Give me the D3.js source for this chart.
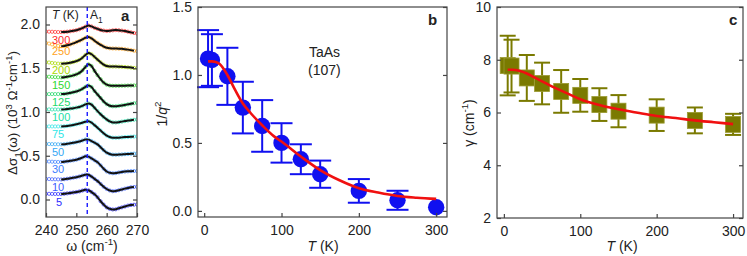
<!DOCTYPE html>
<html>
<head>
<meta charset="utf-8">
<script src="https://cdn.jsdelivr.net/npm/d3@7"></script>
<style>
  body { margin: 0; background: #fff; }
  svg { display: block; font-family: "Liberation Sans", Arial, sans-serif; }
  .tick text { font-size: 14px; fill: #222; }
</style>
</head>
<body>
<svg id="chart" width="747" height="256"></svg>
<script>
// ---- panel a : spectra (offset), omega grid 240..270 cm-1
var omega = d3.range(240, 271, 1);
var specTemps = ["5", "10", "30", "50", "75", "100", "125", "150", "200", "250", "300"];
var specColors = ["#2b2bff", "#3d5cff", "#3d7dff", "#35a8f5", "#2ee6e6", "#22e0a8", "#22d86a", "#2ed82e", "#a8d800", "#ffa21a", "#ff2a2a"];
var s5   = [0.065,0.065,0.064,0.063,0.063,0.062,0.065,0.070,0.075,0.080,0.085,0.092,0.102,0.111,0.105,0.085,0.060,0.025,-0.020,-0.058,-0.090,-0.107,-0.114,-0.112,-0.100,-0.090,-0.080,-0.070,-0.063,-0.060,-0.057];
var s10  = [0.235,0.234,0.232,0.231,0.230,0.229,0.232,0.237,0.243,0.249,0.255,0.263,0.274,0.284,0.282,0.262,0.236,0.210,0.178,0.145,0.120,0.103,0.095,0.098,0.106,0.115,0.124,0.132,0.140,0.143,0.145];
var s30  = [0.435,0.434,0.432,0.430,0.429,0.428,0.431,0.436,0.442,0.448,0.455,0.465,0.479,0.493,0.490,0.470,0.448,0.425,0.390,0.352,0.320,0.305,0.300,0.302,0.309,0.315,0.319,0.322,0.324,0.325,0.325];
var s50  = [0.635,0.634,0.633,0.632,0.631,0.630,0.632,0.637,0.642,0.648,0.655,0.663,0.674,0.686,0.684,0.668,0.650,0.630,0.597,0.564,0.535,0.520,0.512,0.511,0.513,0.515,0.518,0.520,0.522,0.524,0.526];
var s75  = [0.835,0.835,0.835,0.835,0.835,0.835,0.837,0.841,0.846,0.852,0.860,0.868,0.878,0.889,0.893,0.878,0.850,0.820,0.788,0.757,0.730,0.714,0.706,0.705,0.707,0.710,0.713,0.715,0.717,0.719,0.720];
var s100 = [1.030,1.030,1.029,1.029,1.028,1.028,1.030,1.034,1.039,1.044,1.050,1.058,1.070,1.087,1.098,1.085,1.048,1.010,0.975,0.942,0.915,0.893,0.881,0.880,0.884,0.890,0.896,0.902,0.907,0.911,0.914];
var s125 = [1.205,1.205,1.205,1.205,1.205,1.205,1.207,1.211,1.218,1.226,1.235,1.248,1.265,1.288,1.303,1.285,1.240,1.200,1.160,1.120,1.090,1.072,1.065,1.066,1.070,1.075,1.081,1.088,1.094,1.100,1.105];
var s150 = [1.405,1.403,1.401,1.399,1.397,1.395,1.398,1.403,1.410,1.419,1.430,1.447,1.475,1.515,1.545,1.525,1.470,1.420,1.375,1.336,1.312,1.302,1.299,1.299,1.299,1.300,1.301,1.302,1.303,1.304,1.305];
var s200 = [1.570,1.566,1.561,1.557,1.553,1.551,1.553,1.557,1.563,1.571,1.581,1.596,1.620,1.652,1.674,1.660,1.630,1.598,1.568,1.542,1.526,1.520,1.519,1.519,1.518,1.516,1.514,1.511,1.508,1.504,1.501];
var s250 = [1.790,1.782,1.772,1.763,1.756,1.752,1.755,1.762,1.772,1.784,1.798,1.812,1.830,1.848,1.856,1.842,1.815,1.790,1.768,1.748,1.735,1.728,1.726,1.725,1.724,1.722,1.718,1.713,1.707,1.700,1.695];
var s300 = [1.920,1.918,1.917,1.915,1.914,1.913,1.915,1.918,1.923,1.928,1.935,1.945,1.958,1.975,1.988,1.978,1.962,1.950,1.938,1.930,1.926,1.928,1.933,1.936,1.934,1.930,1.925,1.918,1.910,1.903,1.897];
var spectra = [s5, s10, s30, s50, s75, s100, s125, s150, s200, s250, s300];
var phononPos = 253.6;

// ---- panels b and c : fit parameters vs temperature
var temps = [5, 10, 30, 50, 75, 100, 125, 150, 200, 250, 300];
var invQ2 = [1.12, 1.11, 0.99, 0.76, 0.625, 0.50, 0.38, 0.27, 0.147, 0.078, 0.027];
var invQ2Err = [0.21, 0.19, 0.21, 0.19, 0.19, 0.145, 0.11, 0.10, 0.087, 0.07, 0];
var gamma = [7.78, 7.76, 7.31, 7.10, 6.80, 6.65, 6.30, 6.05, 5.90, 5.70, 5.55];
var gammaErr = [1.13, 1.0, 0.87, 0.79, 0.81, 0.62, 0.62, 0.61, 0.60, 0.49, 0.40];
var fitT = [5, 10, 15, 20, 30, 40, 50, 60, 75, 90, 100, 125, 150, 175, 200, 225, 250, 275, 300];
var fitInvQ2 = [1.10, 1.10, 1.095, 1.08, 1.00, 0.89, 0.79, 0.72, 0.63, 0.55, 0.51, 0.40, 0.30, 0.225, 0.167, 0.135, 0.11, 0.097, 0.088];
var fitGamma = [7.62, 7.62, 7.61, 7.58, 7.48, 7.33, 7.18, 7.03, 6.83, 6.63, 6.50, 6.28, 6.12, 5.99, 5.87, 5.79, 5.70, 5.63, 5.56];

var tTicks = [0, 100, 200, 300];

var svg = d3.select("#chart");
var frameColor = "#444";

// rich text helper: parts = [[string, "sub"|"sup"|"it"|""]]
function richText(sel, parts, size) {
    var shift = 0;
    parts.forEach(function(p) {
        var t = sel.append("tspan").text(p[0]);
        var want = p[1] === "sub" ? 0.3 * size : (p[1] === "sup" ? -0.4 * size : 0);
        t.attr("dy", want - shift);
        shift = want;
        if (p[1] === "sub" || p[1] === "sup") t.attr("font-size", (size * 0.7) + "px");
        if (p[1] === "it") t.attr("font-style", "italic");
    });
}

function frame(x0, x1, y0, y1) {
    svg.append("rect")
        .attr("x", x0).attr("y", y0)
        .attr("width", x1 - x0).attr("height", y1 - y0)
        .attr("fill", "none").attr("stroke", frameColor).attr("stroke-width", 1.2);
}

function axes(x, y, xTicks, yTicks, yFmt) {
    var r = x.range(), ry = y.range();
    var gx = svg.append("g").attr("transform", "translate(0," + ry[0] + ")")
        .call(d3.axisBottom(x).tickValues(xTicks).tickSizeInner(-4).tickSizeOuter(0).tickPadding(8));
    var gy = svg.append("g").attr("transform", "translate(" + r[0] + ",0)")
        .call(d3.axisLeft(y).tickValues(yTicks).tickFormat(yFmt).tickSizeInner(-4).tickSizeOuter(0).tickPadding(6));
    var gr = svg.append("g").attr("transform", "translate(" + r[1] + ",0)")
        .call(d3.axisRight(y).tickValues(yTicks).tickFormat("").tickSizeInner(-4).tickSizeOuter(0));
    [gx, gy, gr].forEach(function(g) {
        g.select(".domain").remove();
        g.selectAll(".tick line").attr("stroke", frameColor).attr("stroke-width", 1.2);
    });
}

// ================= panel a
var xA = d3.scaleLinear().domain([240, 270]).range([46, 137]);
var yA = d3.scaleLinear().domain([-0.2, 2.2]).range([217, 7]);

svg.append("defs").append("clipPath").attr("id", "clipA")
    .append("rect").attr("x", 46).attr("y", 7).attr("width", 91).attr("height", 210);

var gA = svg.append("g").attr("clip-path", "url(#clipA)");
var fitLine = d3.line().x(function(d) { return xA(d[0]); }).y(function(d) { return yA(d[1]); }).curve(d3.curveCatmullRom);

spectra.forEach(function(s, i) {
    var pts = omega.map(function(w, k) { return [w, s[k]]; });
    gA.append("g").selectAll("circle")
        .data(pts).enter().append("circle")
        .attr("cx", function(d) { return xA(d[0]); })
        .attr("cy", function(d) { return yA(d[1]); })
        .attr("r", 1.6)
        .attr("fill", "none")
        .attr("stroke", specColors[i])
        .attr("stroke-opacity", 0.75)
        .attr("stroke-width", 0.9);
    gA.append("path")
        .datum(pts.filter(function(d) { return d[0] >= 245 && d[0] <= 269; }))
        .attr("d", fitLine)
        .attr("fill", "none").attr("stroke", "#111").attr("stroke-width", 2);
    svg.append("text")
        .attr("x", specTemps[i].length === 1 ? 56 : 52)
        .attr("y", yA(s[0]) + 12)
        .attr("font-size", "11px")
        .attr("fill", specColors[i])
        .text(specTemps[i]);
});

svg.append("line")
    .attr("x1", xA(phononPos)).attr("x2", xA(phononPos))
    .attr("y1", 7).attr("y2", 217)
    .attr("stroke", "#1a1aff").attr("stroke-width", 1.4).attr("stroke-dasharray", "4,3");

frame(46, 137, 7, 217);
axes(xA, yA, [240, 250, 260, 270], [0, 0.5, 1.0, 1.5, 2.0], d3.format(".1f"));

var tk = svg.append("text").attr("x", 52).attr("y", 19).attr("font-size", "12px").attr("fill", "#222");
richText(tk, [["T", "it"], [" (K)", ""]], 12);
var a1 = svg.append("text").attr("x", 90).attr("y", 19).attr("font-size", "12px").attr("fill", "#222");
richText(a1, [["A", ""], ["1", "sub"]], 12);
svg.append("text").attr("x", 121).attr("y", 21).attr("font-size", "15px").attr("font-weight", "bold").attr("fill", "#222").text("a");

var xlA = svg.append("text").attr("x", 92).attr("y", 251).attr("text-anchor", "middle").attr("font-size", "14px").attr("fill", "#222");
richText(xlA, [["\u03c9 (cm", ""], ["-1", "sup"], [")", ""]], 14);
var ylA = svg.append("text").attr("transform", "translate(17,113) rotate(-90)").attr("text-anchor", "middle").attr("font-size", "13.5px").attr("fill", "#222");
richText(ylA, [["\u0394\u03c3", ""], ["1", "sub"], ["(\u03c9) (10", ""], ["3", "sup"], [" \u03a9", ""], ["-1", "sup"], ["cm", ""], ["-1", "sup"], [")", ""]], 13.5);

// ================= panel b
var xB = d3.scaleLinear().domain([-8, 314]).range([198, 447]);
var yB = d3.scaleLinear().domain([-0.045, 1.5]).range([217, 7]);
var blue = "#1010f0";

var gB = svg.append("g");
var bData = temps.map(function(t, i) { return { t: t, v: invQ2[i], e: invQ2Err[i] }; });
var eb = gB.selectAll(".eb").data(bData.filter(function(d) { return d.e > 0; })).enter().append("g");
eb.append("line")
    .attr("x1", function(d) { return xB(d.t); }).attr("x2", function(d) { return xB(d.t); })
    .attr("y1", function(d) { return yB(d.v - d.e); }).attr("y2", function(d) { return yB(d.v + d.e); })
    .attr("stroke", blue).attr("stroke-width", 2);
eb.append("line")
    .attr("x1", function(d) { return xB(d.t) - 11; }).attr("x2", function(d) { return xB(d.t) + 11; })
    .attr("y1", function(d) { return yB(d.v + d.e); }).attr("y2", function(d) { return yB(d.v + d.e); })
    .attr("stroke", blue).attr("stroke-width", 2);
eb.append("line")
    .attr("x1", function(d) { return xB(d.t) - 11; }).attr("x2", function(d) { return xB(d.t) + 11; })
    .attr("y1", function(d) { return yB(d.v - d.e); }).attr("y2", function(d) { return yB(d.v - d.e); })
    .attr("stroke", blue).attr("stroke-width", 2);
gB.selectAll("circle").data(bData).enter().append("circle")
    .attr("cx", function(d) { return xB(d.t); })
    .attr("cy", function(d) { return yB(d.v); })
    .attr("r", 8.2)
    .attr("fill", blue);
gB.append("path")
    .datum(fitT.map(function(t, i) { return [t, fitInvQ2[i]]; }))
    .attr("d", d3.line().x(function(d) { return xB(d[0]); }).y(function(d) { return yB(d[1]); }).curve(d3.curveMonotoneX))
    .attr("fill", "none").attr("stroke", "#f01010").attr("stroke-width", 2.6);

frame(198, 447, 7, 217);
axes(xB, yB, tTicks, [0, 0.5, 1.0, 1.5], d3.format(".1f"));

svg.append("text").attr("x", 309).attr("y", 57).attr("font-size", "14px").attr("fill", "#222").text("TaAs");
svg.append("text").attr("x", 308).attr("y", 75).attr("font-size", "14px").attr("fill", "#222").text("(107)");
svg.append("text").attr("x", 428).attr("y", 25).attr("font-size", "15px").attr("font-weight", "bold").attr("fill", "#222").text("b");

var xlB = svg.append("text").attr("x", 323).attr("y", 251).attr("text-anchor", "middle").attr("font-size", "14px").attr("fill", "#222");
richText(xlB, [["T", "it"], [" (K)", ""]], 14);
var ylB = svg.append("text").attr("transform", "translate(167,114) rotate(-90)").attr("text-anchor", "middle").attr("font-size", "14px").attr("fill", "#222");
richText(ylB, [["1/", ""], ["q", "it"], ["2", "sup"]], 14);

// ================= panel c
var xC = d3.scaleLinear().domain([-9, 313]).range([497, 743]);
var yC = d3.scaleLinear().domain([2, 10]).range([218, 7]);
var olive = "#7a7a00";

var gC = svg.append("g");
var cData = temps.map(function(t, i) { return { t: t, v: gamma[i], e: gammaErr[i] }; });
var ec = gC.selectAll(".ec").data(cData).enter().append("g");
ec.append("line")
    .attr("x1", function(d) { return xC(d.t); }).attr("x2", function(d) { return xC(d.t); })
    .attr("y1", function(d) { return yC(d.v - d.e); }).attr("y2", function(d) { return yC(d.v + d.e); })
    .attr("stroke", olive).attr("stroke-width", 2);
ec.append("line")
    .attr("x1", function(d) { return xC(d.t) - 8; }).attr("x2", function(d) { return xC(d.t) + 8; })
    .attr("y1", function(d) { return yC(d.v + d.e); }).attr("y2", function(d) { return yC(d.v + d.e); })
    .attr("stroke", olive).attr("stroke-width", 2);
ec.append("line")
    .attr("x1", function(d) { return xC(d.t) - 8; }).attr("x2", function(d) { return xC(d.t) + 8; })
    .attr("y1", function(d) { return yC(d.v - d.e); }).attr("y2", function(d) { return yC(d.v - d.e); })
    .attr("stroke", olive).attr("stroke-width", 2);
gC.selectAll("rect").data(cData).enter().append("rect")
    .attr("x", function(d) { return xC(d.t) - 7.5; })
    .attr("y", function(d) { return yC(d.v) - 8; })
    .attr("width", 15).attr("height", 16)
    .attr("fill", olive).attr("stroke", "#9a9a30").attr("stroke-width", 0.8);
gC.append("path")
    .datum(fitT.map(function(t, i) { return [t, fitGamma[i]]; }))
    .attr("d", d3.line().x(function(d) { return xC(d[0]); }).y(function(d) { return yC(d[1]); }).curve(d3.curveMonotoneX))
    .attr("fill", "none").attr("stroke", "#f01010").attr("stroke-width", 2.6);

frame(497, 743, 7, 218);
axes(xC, yC, tTicks, [2, 4, 6, 8, 10], d3.format("d"));

svg.append("text").attr("x", 729).attr("y", 25).attr("font-size", "15px").attr("font-weight", "bold").attr("fill", "#222").text("c");

var xlC = svg.append("text").attr("x", 622).attr("y", 251).attr("text-anchor", "middle").attr("font-size", "14px").attr("fill", "#222");
richText(xlC, [["T", "it"], [" (K)", ""]], 14);
var ylC = svg.append("text").attr("transform", "translate(474,123) rotate(-90)").attr("text-anchor", "middle").attr("font-size", "14px").attr("fill", "#222");
richText(ylC, [["\u03b3 (cm", ""], ["-1", "sup"], [")", ""]], 14);
</script>
</body>
</html>
